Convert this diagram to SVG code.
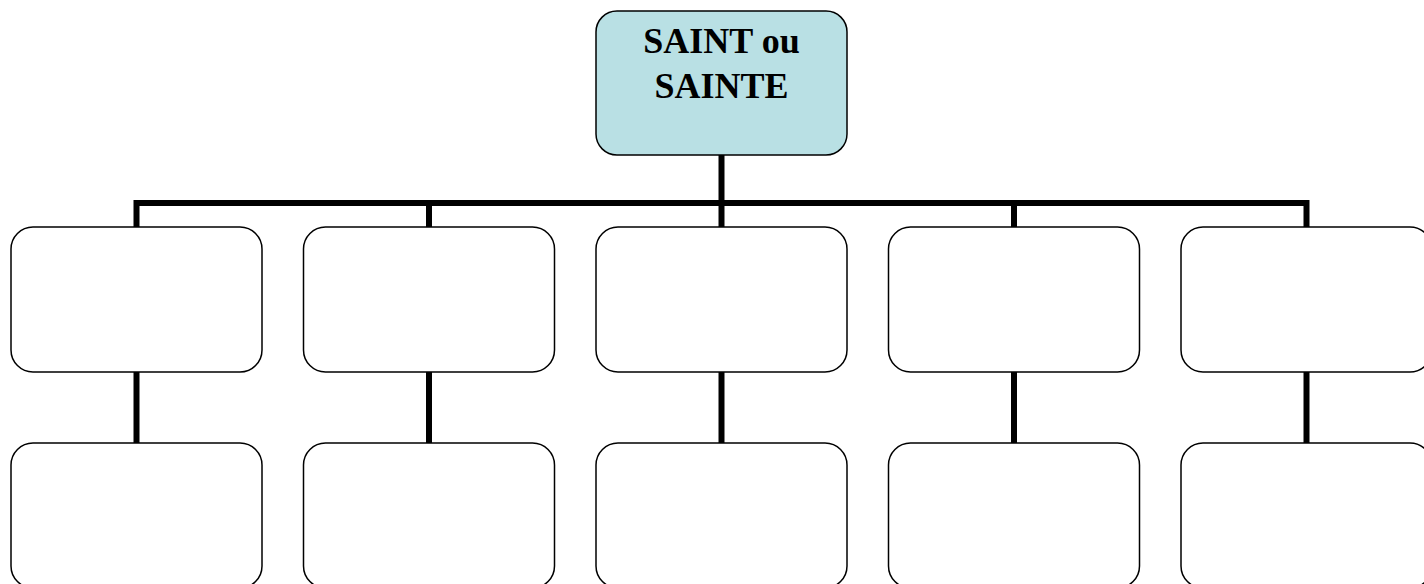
<svg xmlns="http://www.w3.org/2000/svg" width="1424" height="584" viewBox="0 0 1424 584">
<style>
.box{fill:#ffffff;stroke:#000000;stroke-width:1.5}
.root{fill:#b9e0e4;stroke:#000000;stroke-width:1.5}
.conn{stroke:#000000;stroke-width:6;fill:none}
.lbl{font-family:"Liberation Serif","Times New Roman",serif;font-weight:bold;font-size:36px;fill:#000000;text-anchor:middle}
</style>
<rect width="1424" height="584" fill="#ffffff"/>
<g id="connectors">
<path class="conn" d="M721.5,155 V227"/>
<path class="conn" d="M136.5,230 V203 H1306.5 V230"/>
<path class="conn" d="M429,203 V227"/>
<path class="conn" d="M1014,203 V227"/>
<path class="conn" d="M136.5,372 V443"/>
<path class="conn" d="M429,372 V443"/>
<path class="conn" d="M721.5,372 V443"/>
<path class="conn" d="M1014,372 V443"/>
<path class="conn" d="M1306.5,372 V443"/>
</g>
<g id="root">
<rect class="root" x="596" y="11" width="251" height="144" rx="21" ry="21"/>
<text class="lbl" x="721.5" y="53">SAINT ou</text>
<text class="lbl" x="721.5" y="98">SAINTE</text>
</g>
<g id="n1a"><rect class="box" x="11" y="227" width="251" height="145" rx="22" ry="22"/></g>
<g id="n2a"><rect class="box" x="303.5" y="227" width="251" height="145" rx="22" ry="22"/></g>
<g id="n3a"><rect class="box" x="596" y="227" width="251" height="145" rx="22" ry="22"/></g>
<g id="n4a"><rect class="box" x="888.5" y="227" width="251" height="145" rx="22" ry="22"/></g>
<g id="n5a"><rect class="box" x="1181" y="227" width="251" height="145" rx="22" ry="22"/></g>
<g id="n1b"><rect class="box" x="11" y="443" width="251" height="145" rx="22" ry="22"/></g>
<g id="n2b"><rect class="box" x="303.5" y="443" width="251" height="145" rx="22" ry="22"/></g>
<g id="n3b"><rect class="box" x="596" y="443" width="251" height="145" rx="22" ry="22"/></g>
<g id="n4b"><rect class="box" x="888.5" y="443" width="251" height="145" rx="22" ry="22"/></g>
<g id="n5b"><rect class="box" x="1181" y="443" width="251" height="145" rx="22" ry="22"/></g>
</svg>
